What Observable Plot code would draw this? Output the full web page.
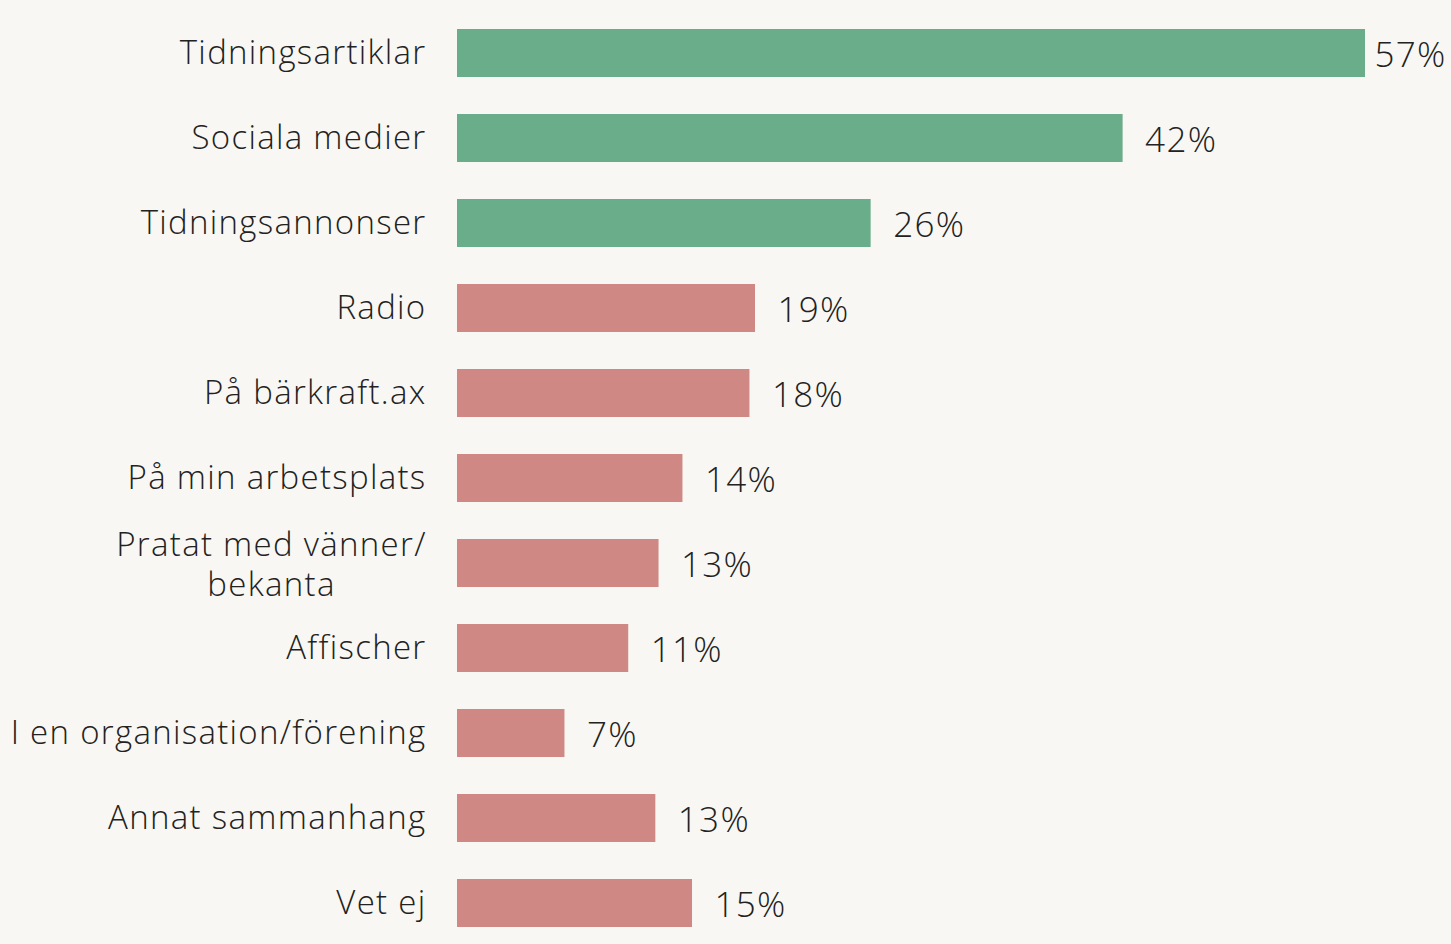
<!DOCTYPE html>
<html>
<head>
<meta charset="utf-8">
<script src="https://cdn.jsdelivr.net/npm/d3@7"></script>
<script src="https://cdn.jsdelivr.net/npm/@observablehq/plot@0.6"></script>
<style>
  html, body { margin: 0; padding: 0; background: #f8f7f3; }
  #chart svg { display: block; }
  #chart svg text { letter-spacing: 1.3px; }
</style>
</head>
<body>
<div id="chart"></div>
<script>
const categories = [
  "Tidningsartiklar",
  "Sociala medier",
  "Tidningsannonser",
  "Radio",
  "På bärkraft.ax",
  "På min arbetsplats",
  "Pratat med vänner/\nbekanta",
  "Affischer",
  "I en organisation/förening",
  "Annat sammanhang",
  "Vet ej"
];
const values = [57, 41.8, 26, 18.75, 18.4, 14.2, 12.7, 10.8, 6.8, 12.5, 14.8];
const labels = ["57%", "42%", "26%", "19%", "18%", "14%", "13%", "11%", "7%", "13%", "15%"];
const groups = ["top", "top", "top", "rest", "rest", "rest", "rest", "rest", "rest", "rest", "rest"];

const data = categories.map((c, i) => ({cat: c, value: values[i], label: labels[i], group: groups[i]}));

const font = "'Open Sans', sans-serif";

const chart = Plot.plot({
  width: 1451,
  height: 944,
  marginTop: 0, marginBottom: 0, marginLeft: 0, marginRight: 0,
  style: {background: "#f8f7f3", fontFamily: font, color: "#222"},
  x: {domain: [0, 57], range: [456, 1365], axis: null},
  y: {domain: categories, range: [9, 948], paddingInner: 0.43, paddingOuter: 0.215, axis: null},
  color: {domain: ["top", "rest"], range: ["#6aad8a", "#cf8884"]},
  marks: [
    Plot.barX(data, {y: "cat", x: "value", fill: "group", insetLeft: 1}),
    Plot.ruleX([0], {y1: 11, y2: 944, stroke: "#d9d9d9", strokeWidth: 2, dx: -0.5}),
    Plot.text(data.filter((d, i) => i === 0), {y: "cat", x: "value", text: "label", textAnchor: "start", dx: 9, dy: 2, fontSize: 35, fontWeight: 300, fill: "#222"}),
    Plot.text(data.filter((d, i) => i > 0), {y: "cat", x: "value", text: "label", textAnchor: "start", dx: 22, dy: 2, fontSize: 35, fontWeight: 300, fill: "#222"}),
    Plot.text(data.filter(d => !d.cat.includes("\n")), {y: "cat", x: 0, text: "cat", textAnchor: "end", dx: -30, fontSize: 33, fontWeight: 300, fill: "#222"}),
    Plot.text(data.filter(d => d.cat.includes("\n")), {y: "cat", x: 0, text: "cat", textAnchor: "middle", dx: -185, fontSize: 33, fontWeight: 300, lineHeight: 1.2, fill: "#222"})
  ]
});
document.getElementById("chart").append(chart);
</script>
</body>
</html>
